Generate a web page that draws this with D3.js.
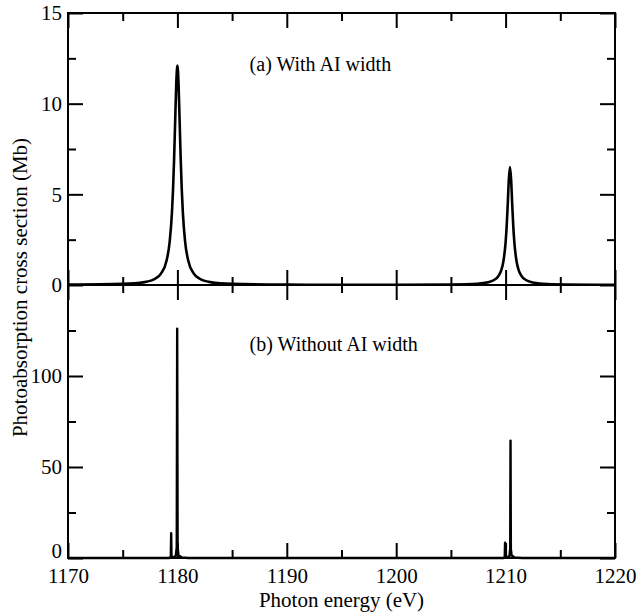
<!DOCTYPE html>
<html>
<head>
<meta charset="utf-8">
<script src="https://cdn.jsdelivr.net/npm/d3@7"></script>
<style>
  body { margin: 0; background: #fff; }
  svg text { font-family: "Liberation Serif", "Times New Roman", Times, "DejaVu Serif", serif; fill: #000; }
</style>
</head>
<body>
<div id="chart"></div>
<script>
// (a) with AI width: photon energy (eV) and cross section (Mb)
const energyA = [1170, 1175, 1177, 1178, 1178.5, 1179, 1179.3, 1179.5, 1179.6, 1179.7, 1179.8, 1179.9,
  1180, 1180.1, 1180.2, 1180.3, 1180.4, 1180.5, 1180.7, 1181, 1181.5, 1182, 1183, 1185, 1190, 1195,
  1200, 1205, 1207.4, 1208.4, 1208.9, 1209.4, 1209.6, 1209.8, 1210.0, 1210.1, 1210.2, 1210.3, 1210.4,
  1210.5, 1210.6, 1210.7, 1210.8, 1211.0, 1211.2, 1211.4, 1211.9, 1212.4, 1213.4, 1215.4, 1220];
const sigmaA = [0.02, 0.06, 0.16, 0.36, 0.63, 1.32, 2.42, 3.98, 5.25, 6.98, 9.12, 11.19,
  12.1, 11.19, 9.12, 6.98, 5.25, 3.98, 2.42, 1.32, 0.63, 0.36, 0.16, 0.06, 0.02, 0.01,
  0.01, 0.03, 0.07, 0.15, 0.26, 0.55, 0.81, 1.31, 2.35, 3.26, 4.51, 5.86, 6.51,
  5.86, 4.51, 3.26, 2.35, 1.31, 0.81, 0.55, 0.26, 0.15, 0.07, 0.03, 0.01];

// (b) without AI width
const energyB = [1170, 1179.3, 1179.4, 1179.43, 1179.46, 1179.6, 1179.85, 1179.94, 1179.98, 1180.02,
  1180.1, 1180.4, 1181, 1209.8, 1209.92, 1209.95, 1209.98, 1210.1, 1210.35, 1210.42, 1210.45,
  1210.48, 1210.55, 1210.8, 1211.5, 1220];
const sigmaB = [0, 0, 1, 13.6, 1, 0.3, 1, 6, 126, 6,
  1.5, 0.3, 0, 0, 0.6, 8.4, 0.6, 0.3, 1, 5, 64.5,
  5, 1.5, 0.3, 0, 0];

const xMajor = [1170, 1180, 1190, 1200, 1210, 1220];
const xMinor = [1175, 1185, 1195, 1205, 1215];
const yMajorA = [0, 5, 10, 15];
const yMinorA = [2.5, 7.5, 12.5];
const yMajorB = [0, 50, 100];
const yMinorB = [25, 75, 125];

const W = 638, H = 615;
const plotL = 68, plotR = 615, plotT = 13, plotM = 285, plotB = 558;
const serif = '"Liberation Serif", "Times New Roman", Times, "DejaVu Serif", serif';

const svg = d3.select("#chart").append("svg")
  .attr("width", W).attr("height", H)
  .attr("font-family", serif);

const x = d3.scaleLinear().domain([1170, 1220]).range([plotL, plotR]);
const yA = d3.scaleLinear().domain([0, 15]).range([plotM, plotT]);
const yB = d3.scaleLinear().domain([0, 150]).range([plotB, plotM]);

function panel(y, y0, y1, major, minor, showX) {
  const g = svg.append("g");
  // x ticks, bottom edge
  g.append("g").attr("transform", `translate(0,${y1})`)
    .call(d3.axisBottom(x).tickValues(xMajor).tickSize(-15).tickPadding(10)
      .tickFormat(showX ? d3.format("d") : () => ""));
  g.append("g").attr("transform", `translate(0,${y1})`)
    .call(d3.axisBottom(x).tickValues(xMinor).tickSize(-8).tickFormat(() => ""));
  // x ticks, top edge
  g.append("g").attr("transform", `translate(0,${y0})`)
    .call(d3.axisTop(x).tickValues(xMajor).tickSize(-15).tickFormat(() => ""));
  g.append("g").attr("transform", `translate(0,${y0})`)
    .call(d3.axisTop(x).tickValues(xMinor).tickSize(-8).tickFormat(() => ""));
  // y ticks
  g.append("g").attr("transform", `translate(${plotL},0)`)
    .call(d3.axisLeft(y).tickValues(major).tickSize(-15).tickPadding(6).tickFormat(d3.format("d")));
  g.append("g").attr("transform", `translate(${plotL},0)`)
    .call(d3.axisLeft(y).tickValues(minor).tickSize(-8).tickFormat(() => ""));
  g.append("g").attr("transform", `translate(${plotR},0)`)
    .call(d3.axisRight(y).tickValues(major).tickSize(-15).tickFormat(() => ""));
  g.append("g").attr("transform", `translate(${plotR},0)`)
    .call(d3.axisRight(y).tickValues(minor).tickSize(-8).tickFormat(() => ""));

  g.selectAll("g").attr("font-family", serif).attr("font-size", 21);
  g.selectAll(".domain").remove();
  g.selectAll(".tick line").attr("stroke", "#000").attr("stroke-width", 2);

  g.append("rect")
    .attr("x", plotL).attr("y", y0)
    .attr("width", plotR - plotL).attr("height", y1 - y0)
    .attr("fill", "none").attr("stroke", "#000").attr("stroke-width", 2);
  return g;
}

panel(yA, plotT, plotM, yMajorA, yMinorA, false);
const gB = panel(yB, plotM, plotB, yMajorB, yMinorB, true);
// lift the bottom "0" so it clears the 1170 label
gB.selectAll("text").filter(d => d === 0).attr("dy", "-0.02em");

const lineA = d3.line().x((d, i) => x(energyA[i])).y(d => yA(d)).curve(d3.curveMonotoneX);
const lineB = d3.line().x((d, i) => x(energyB[i])).y(d => yB(d));

svg.append("path").datum(sigmaA)
  .attr("d", lineA).attr("fill", "none")
  .attr("stroke", "#000").attr("stroke-width", 2.6).attr("stroke-linejoin", "round");

svg.append("path").datum(sigmaB)
  .attr("d", lineB).attr("fill", "none")
  .attr("stroke", "#000").attr("stroke-width", 2.4).attr("stroke-linejoin", "round");

// panel labels
svg.append("text")
  .attr("x", x(1186.6)).attr("y", yA(11.8))
  .attr("font-size", 20)
  .text("(a) With AI width");

svg.append("text")
  .attr("x", x(1186.6)).attr("y", yB(113.7))
  .attr("font-size", 20)
  .text("(b) Without AI width");

// axis titles
svg.append("text")
  .attr("x", (plotL + plotR) / 2).attr("y", 607)
  .attr("text-anchor", "middle")
  .attr("font-size", 21)
  .text("Photon energy (eV)");

svg.append("text")
  .attr("transform", `translate(27,${(plotT + plotB) / 2 + 2}) rotate(-90)`)
  .attr("text-anchor", "middle")
  .attr("font-size", 21)
  .text("Photoabsorption cross section (Mb)");
</script>
</body>
</html>
